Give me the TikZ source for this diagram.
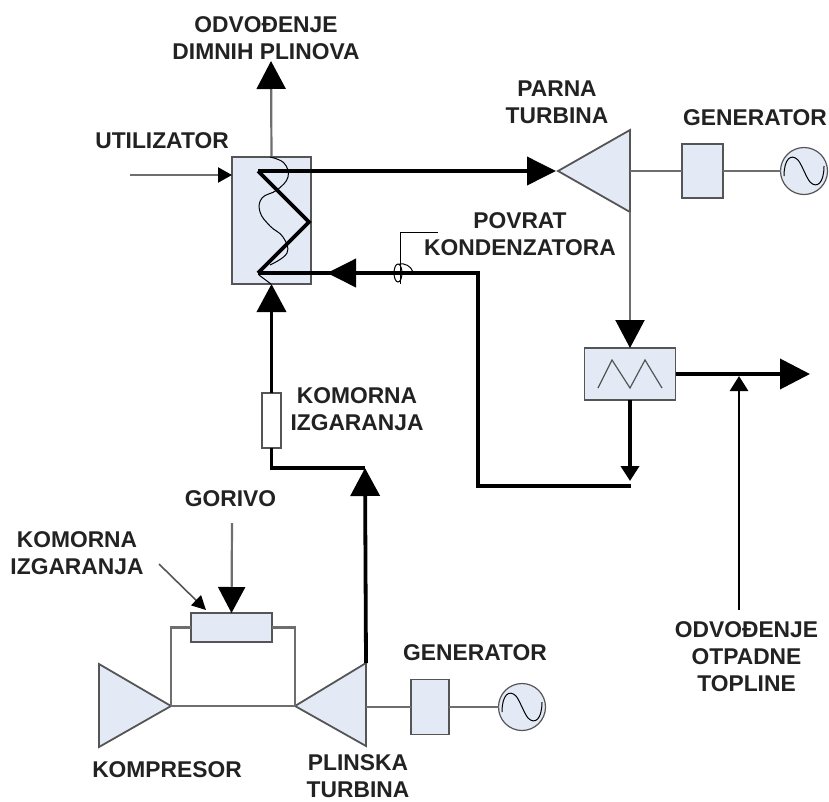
\documentclass[tikz,border=0pt]{standalone}
\usepackage{fontspec}
\setmainfont{Liberation Sans}
\usetikzlibrary{arrows.meta}
\definecolor{pale}{HTML}{E3EAF6}
\definecolor{edge}{HTML}{555555}
\definecolor{lbl}{HTML}{222222}
\tikzset{
  box/.style={draw=edge,fill=pale,line width=1.8pt,inner sep=0pt,outer sep=0pt,rectangle},
  gen/.style={draw=edge,fill=pale,line width=1.2pt,inner sep=0pt,outer sep=0pt,circle,minimum size=47pt},
  tri/.style={draw=edge,fill=pale,line width=1.8pt,line join=miter},
  grayline/.style={draw=edge!85,line width=2.2pt},
  heavy/.style={draw=black,line width=3.8pt},
  medium/.style={draw=black,line width=2.8pt},
  thin line/.style={draw=black,line width=1pt},
  bigtip/.style={-{Triangle[length=28pt,width=29pt,color=black,fill=black]}},
  midtip/.style={-{Triangle[length=15pt,width=18pt,color=black,fill=black]}},
  smalltip/.style={-{Triangle[length=14pt,width=15pt,color=black,fill=black]}},
  lab/.style={font=\fontsize{22.8}{27}\selectfont\bfseries,text=lbl,align=center,inner sep=0pt},
  wave/.pic={\draw[black,line width=1pt] (-20,5) .. controls (-20,-12) and (-13,-18) .. (-6,-11) .. controls (-2,-6) and (2,6) .. (6,11) .. controls (13,18) and (20,12) .. (20,-5);}
}
\begin{document}
\begin{tikzpicture}[x=1pt,y=-1pt]
\useasboundingbox (0,0) rectangle (829,801);
% coordinates
\coordinate (exhtip) at (271,61);
\coordinate (utilin) at (130,175);
\coordinate (steamtip) at (556,171);
\coordinate (zza) at (258,171);
\coordinate (zzb) at (309,222);
\coordinate (zzc) at (258,273);
\coordinate (retcorner) at (478,273);
\coordinate (retlow) at (478,486);
\coordinate (rettip) at (327,273);
\coordinate (retbase) at (356,273);
\coordinate (condlow) at (631,486);
\coordinate (ptip) at (558,171);
\coordinate (ptop) at (630,130);
\coordinate (pbot) at (630,212);
\coordinate (pmid) at (630,171);
\coordinate (gttip) at (295,706);
\coordinate (gttop) at (366,663);
\coordinate (gtbot) at (366,746);
\coordinate (gtmid) at (366,707);
\coordinate (cptip) at (171,706);
\coordinate (cptop) at (99,664);
\coordinate (cpbot) at (99,747);
\coordinate (out) at (810,374);
\coordinate (wastein) at (739,610);
\coordinate (wastetip) at (739,376);
\coordinate (fuelin) at (232,523);
\coordinate (notein) at (159,564);
\coordinate (notetip) at (206,610);
\coordinate (feedtip) at (365,468);
\coordinate (leaderend) at (438,232);
\coordinate (leaderbend) at (400,232);
\coordinate (leaderlow) at (400,284);
% boxes
\node[box,minimum width=79pt,minimum height=127pt] (hrsg) at (271.5,220.5) {};
\node[box,minimum width=41pt,minimum height=54pt] (gen1) at (702.5,171) {};
\node[gen] (ac1) at (804,171) {};
\node[box,minimum width=91pt,minimum height=52pt] (cond) at (630,374) {};
\node[box,fill=white,line width=1.3pt,minimum width=19pt,minimum height=55pt] (cc1) at (271.5,420.5) {};
\node[box,minimum width=81pt,minimum height=29pt] (cc2) at (231.5,627.5) {};
\node[box,minimum width=38pt,minimum height=55pt] (gen2) at (430,707) {};
\node[gen] (ac2) at (522,707) {};
% triangles
\draw[tri] (ptip) -- (ptop) -- (pbot) -- cycle;
\draw[tri] (gttip) -- (gttop) -- (gtbot) -- cycle;
\draw[tri] (cptip) -- (cptop) -- (cpbot) -- cycle;
% gray shafts and links
\draw[grayline,bigtip] (hrsg.north) -- (exhtip);
\draw[grayline] (pmid) -- (gen1.west);
\draw[grayline] (gen1.east) -- (ac1.west);
\draw[grayline,bigtip] (pbot) -- (cond.north);
\draw[grayline] (cptip) -- (gttip);
\draw[grayline] (cptip) |- (cc2.west);
\draw[grayline] (gttip) |- (cc2.east);
\draw[grayline] (gtmid) -- (gen2.west);
\draw[grayline] (gen2.east) -- (ac2.west);
\draw[grayline,smalltip] (utilin) -- (hrsg.west|-utilin);
% coil
\draw[thin line] plot[smooth,tension=.7] coordinates {(270,157) (284,163) (288,177) (277,190) (262,198) (260,212) (270,226) (283,237) (287,253) (270,265)};
\draw[thin line] (259,275) -- (271,284);
% hot water path
\draw[heavy,line join=miter,-{Triangle[length=29pt,width=28pt]}] (zza) -- (steamtip);
\draw[heavy,line join=miter] (zza) -- (zzb) -- (zzc);
\draw[heavy,line join=miter] (zzc) -- (retcorner) -- (retlow) -- (condlow);
\draw[black,line width=3.8pt,-{Triangle[length=29pt,width=28pt]}] (retbase) -- (rettip);
% condenser
\draw[edge,line width=1.2pt,line join=miter] (598,388) -- (612,360) -- (630,388) -- (645,360) -- (662,388);
\draw[heavy,-{Triangle[length=30pt,width=30pt]}] (cond.east) -- (out);
\draw[medium,midtip] (wastein) -- (wastetip);
\draw[heavy,midtip] (cond.south) -- (630,481);
% combustor chain
\draw[heavy,bigtip] (cc1.north) -- (hrsg.south);
\draw[heavy,line join=miter] (cc1.south) |- (feedtip);
\draw[heavy,bigtip] (gttop) -- (feedtip);
% fuel
\draw[grayline,-{Triangle[length=26pt,width=27pt,color=black,fill=black]}] (fuelin) -- (cc2.north);
\draw[edge,line width=1.6pt,-{Triangle[length=14pt,width=14pt,color=black,fill=black]}] (notein) -- (notetip);
% leader with hop
\draw[thin line] (leaderend) -- (leaderbend) -- (leaderlow);
\draw[thin line] (398,273) ellipse [x radius=4,y radius=9];
\draw[thin line] (399,264) .. controls (405,263) and (411,266) .. (413,272);
% sine waves
\pic at (ac1) {wave};
\pic at (ac2) {wave};
% labels
\node[lab] (t1) at (266,38) {ODVOĐENJE\\DIMNIH PLINOVA};
\node[lab] (t2) at (162,141) {UTILIZATOR};
\node[lab] (t3) at (557,102) {PARNA\\TURBINA};
\node[lab] (t4) at (755,118) {GENERATOR};
\node[lab] (t5) at (520,234) {POVRAT\\KONDENZATORA};
\node[lab] (t6) at (357,409) {KOMORNA\\IZGARANJA};
\node[lab] (t7) at (230.5,499) {GORIVO};
\node[lab] (t8) at (77,553) {KOMORNA\\IZGARANJA};
\node[lab] (t9) at (475,653) {GENERATOR};
\node[lab] (t10) at (167,770) {KOMPRESOR};
\node[lab] (t11) at (358,776) {PLINSKA\\TURBINA};
\node[lab] (t12) at (746.5,657) {ODVOĐENJE\\OTPADNE\\TOPLINE};
\end{tikzpicture}
\end{document}
